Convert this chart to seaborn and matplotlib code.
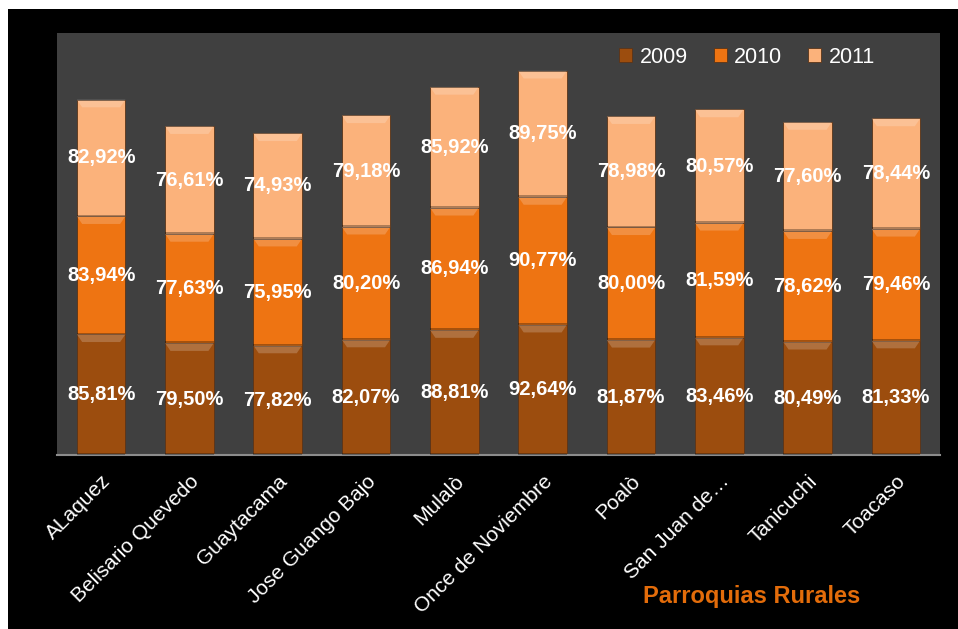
import numpy as np
import pandas as pd
import matplotlib
matplotlib.use("Agg")
import matplotlib.pyplot as plt
import seaborn as sns
from matplotlib.patches import Rectangle, Polygon

# data
parroquias = ["ALaquez", "Belisario Quevedo", "Guaytacama", "Jose Guango Bajo", "Mulalò",
              "Once de Noviembre", "Poalò", "San Juan de…", "Tanicuchi", "Toacaso"]
v2009 = [85.81, 79.50, 77.82, 82.07, 88.81, 92.64, 81.87, 83.46, 80.49, 81.33]
v2010 = [83.94, 77.63, 75.95, 80.20, 86.94, 90.77, 80.00, 81.59, 78.62, 79.46]
v2011 = [82.92, 76.61, 74.93, 79.18, 85.92, 89.75, 78.98, 80.57, 77.60, 78.44]
years = ["2009", "2010", "2011"]
colors = ["#9C4D0E", "#EE7412", "#FBB27B"]

df = pd.DataFrame({"Parroquia": parroquias, "2009": v2009, "2010": v2010, "2011": v2011})

sns.set_style("dark")
plt.rcParams["font.family"] = ["Liberation Sans", "DejaVu Sans"]

fig = plt.figure(figsize=(9.58, 6.29), dpi=100, facecolor="white")
# black frame behind everything
fig.patches.append(Rectangle((8 / 958, 0), 1 - 8 / 958, 1 - 9 / 629, transform=fig.transFigure,
                             facecolor="black", edgecolor="none", zorder=-10))
ax = fig.add_axes([57 / 958, 1 - 455 / 629, (940 - 57) / 958, (455 - 33) / 629])
ax.set_facecolor("#404040")

bottom = np.zeros(len(df))
for yr, col in zip(years, colors):
    sns.barplot(data=df, x="Parroquia", y=yr, bottom=bottom, color=col, width=0.55,
                ax=ax, label=yr, saturation=1, edgecolor="#5a3418", linewidth=0.6, zorder=2)
    bottom = bottom + df[yr].values

# bevel look + value labels
n = len(df)
for i, (yr, col) in enumerate(zip(years, colors)):
    bars = ax.patches[i * n:(i + 1) * n]
    for b, val in zip(bars, df[yr]):
        x0, y0, w, h = b.get_x(), b.get_y(), b.get_width(), b.get_height()
        top = y0 + h
        ax.add_patch(Polygon([(x0, top), (x0 + w, top), (x0 + w - 0.06, top - 5.5), (x0 + 0.06, top - 5.5)],
                             closed=True, facecolor="white", alpha=0.2, edgecolor="none", zorder=3))
        ax.add_patch(Rectangle((x0, y0), w, 1.2, facecolor="black", alpha=0.3,
                               edgecolor="none", zorder=3))
        ax.text(x0 + w / 2, y0 + h / 2, f"{val:.2f}%".replace(".", ","), ha="center", va="center",
                color="white", fontsize=14.5, fontweight="bold", zorder=4)

ax.set_ylim(0, 300)
ax.set_xlim(-0.5, n - 0.5)
ax.set_yticks([])
ax.set_xlabel("")
ax.set_ylabel("")
ax.grid(False)
for s in ["top", "left", "right"]:
    ax.spines[s].set_visible(False)
ax.spines["bottom"].set_color("#8c8c8c")
ax.spines["bottom"].set_linewidth(1.5)
ax.tick_params(axis="x", length=0, pad=12)
ax.set_xticks(range(n))
ax.set_xticklabels(parroquias, rotation=45, ha="right", rotation_mode="anchor",
                   color="white", fontsize=15)

ax.legend(loc="center right", bbox_to_anchor=(0.948, 0.943), ncol=3, frameon=False,
          fontsize=15.5, labelcolor="white", handlelength=0.6, handleheight=0.6,
          columnspacing=1.2, handletextpad=0.35)

fig.text(752 / 958, 1 - 596 / 629, "Parroquias Rurales", color="#E36C0A", fontsize=17,
         fontweight="bold", ha="center", va="center")

fig.savefig("out.png", dpi=100, facecolor="white")
